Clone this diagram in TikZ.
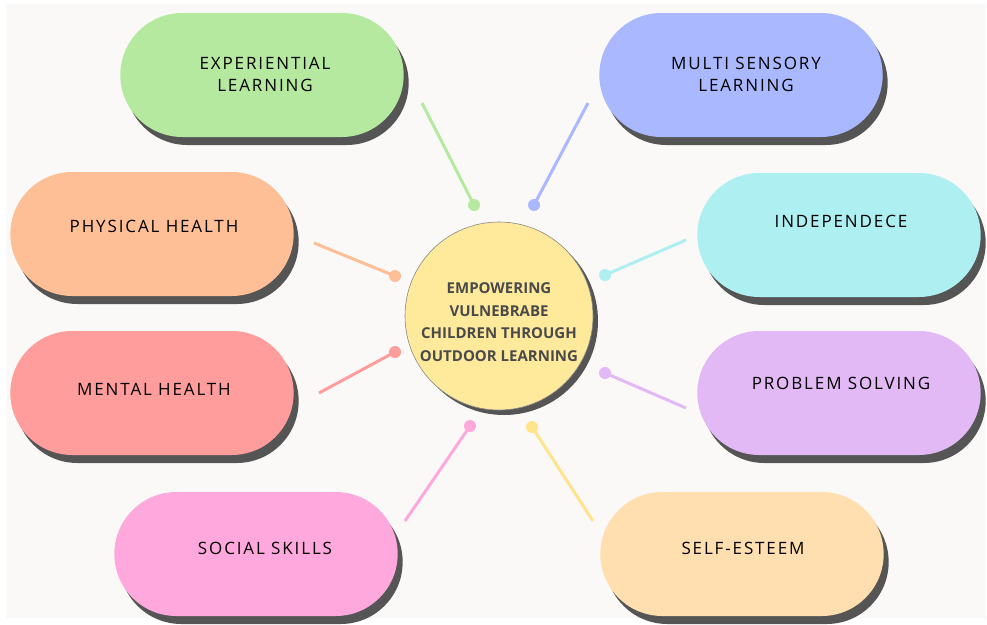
\documentclass[tikz,border=0pt]{standalone}
\usepackage{fontspec}
\setmainfont{Open Sans}
\newfontfamily\tagfont[LetterSpace=11]{Open Sans}
\usetikzlibrary{shapes.misc,shadows,positioning}

\definecolor{paper}{HTML}{FAF9F7}
\definecolor{shade}{HTML}{555555}
\definecolor{hubfill}{HTML}{FFEA9C}
\definecolor{hubtext}{HTML}{4A4A4A}
\definecolor{cGreen}{HTML}{B5E9A0}
\definecolor{cBlue}{HTML}{AAB8FF}
\definecolor{cPeach}{HTML}{FFBF96}
\definecolor{cCyan}{HTML}{AEEFF1}
\definecolor{cRed}{HTML}{FF9D9D}
\definecolor{cLilac}{HTML}{E2B9F5}
\definecolor{cPink}{HTML}{FFA8DD}
\definecolor{cSand}{HTML}{FFDFAF}
\definecolor{cGold}{HTML}{FFE48C}

\newcommand{\tagtext}{\tagfont\fontsize{17}{22}\selectfont}

\begin{document}
\begin{tikzpicture}[x=1pt,y=-1pt,
    pill/.style={rounded rectangle, minimum width=290pt,
                 minimum height=124pt, fill=#1,
                 drop shadow={shadow xshift=5pt, shadow yshift=-8pt,
                              fill=shade, opacity=1}},
    tag/.style={align=center, font=\tagtext, text=black},
    link/.style={draw=#1, line width=3pt},
    dot/.style={circle, fill=#1, inner sep=0pt, minimum size=12pt}]

  \useasboundingbox (0,0) rectangle (987,624);
  \fill [white] (0,0) rectangle (987,624);
  \fill [paper] (6,4) rectangle (986,618);

  % hub in the middle
  \node [circle, minimum size=188pt, fill=hubfill, draw=shade!70,
         line width=0.6pt,
         drop shadow={shadow xshift=5pt, shadow yshift=-5pt,
                      fill=shade, opacity=1}] (hub) at (499,316) {};
  \node [align=center, text=hubtext, font=\bfseries\fontsize{15}{22.5}\selectfont]
        (hubT) at (499,322) {EMPOWERING\\ VULNEBRABE\\ CHILDREN THROUGH\\
        OUTDOOR LEARNING};

  % left column
  \node [pill=cGreen] (exper) at (262,75) {};
  \node [tag] (experT) at (265,74) {EXPERIENTIAL\\ LEARNING};

  \node [pill=cPeach] (phys) at (152,234) {};
  \node [tag] (physT) at (154,226) {PHYSICAL HEALTH};

  \node [pill=cRed] (mental) at (152,393) {};
  \node [tag] (mentalT) at (154,389) {MENTAL HEALTH};

  \node [pill=cPink] (social) at (256,554) {};
  \node [tag] (socialT) at (265,548) {SOCIAL SKILLS};

  % right column
  \node [pill=cBlue] (multi) at (741,75) {};
  \node [tag] (multiT) at (746,74) {MULTI SENSORY\\ LEARNING};

  \node [pill=cCyan] (indep) at (839,235) {};
  \node [tag] (indepT) at (841,221) {INDEPENDECE};

  \node [pill=cLilac] (probl) at (839,393) {};
  \node [tag] (problT) at (841,383) {PROBLEM SOLVING};

  \node [pill=cSand] (esteem) at (742,554) {};
  \node [tag] (esteemT) at (743,548) {SELF-ESTEEM};

  % spokes: free end near each pill, dot near the hub
  \coordinate (e1) at (422,103);
  \coordinate (e2) at (588,103);
  \coordinate (e3) at (314,243);
  \coordinate (e4) at (686,240);
  \coordinate (e5) at (319,393);
  \coordinate (e6) at (686,408);
  \coordinate (e7) at (405,521);
  \coordinate (e8) at (593,521);

  \node [dot=cGreen] (d1) at (474,205) {};
  \node [dot=cBlue]  (d2) at (534,205) {};
  \node [dot=cPeach] (d3) at (395,276) {};
  \node [dot=cCyan]  (d4) at (605,275) {};
  \node [dot=cRed]   (d5) at (395,352) {};
  \node [dot=cLilac] (d6) at (605,373) {};
  \node [dot=cPink]  (d7) at (470,426) {};
  \node [dot=cGold]  (d8) at (532,427) {};

  \draw [link=cGreen] (e1) -- (d1.center);
  \draw [link=cBlue]  (e2) -- (d2.center);
  \draw [link=cPeach] (e3) -- (d3.center);
  \draw [link=cCyan]  (e4) -- (d4.center);
  \draw [link=cRed]   (e5) -- (d5.center);
  \draw [link=cLilac] (e6) -- (d6.center);
  \draw [link=cPink]  (e7) -- (d7.center);
  \draw [link=cGold]  (e8) -- (d8.center);

\end{tikzpicture}
\end{document}
